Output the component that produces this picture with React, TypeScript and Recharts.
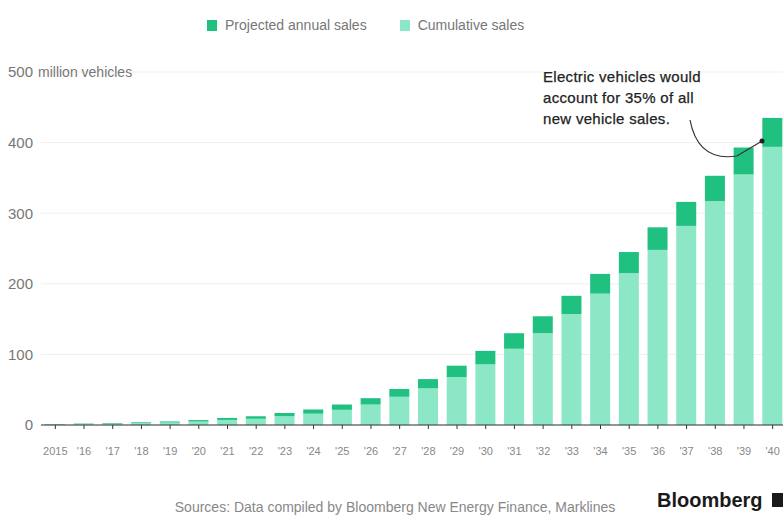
import { BarChart, Bar, XAxis, YAxis, CartesianGrid, Legend } from "recharts";

const YEARS = [
  "2015", "'16", "'17", "'18", "'19", "'20", "'21", "'22", "'23", "'24", "'25", "'26", "'27",
  "'28", "'29", "'30", "'31", "'32", "'33", "'34", "'35", "'36", "'37", "'38", "'39", "'40",
];

// cumulative EV fleet, million vehicles (top of each bar)
const CUMULATIVE = [
  1.2, 2, 2.8, 3.8, 5, 7, 10, 12.5, 17, 22, 29, 38, 51,
  65, 84, 105, 130, 154, 183, 214, 245, 280, 316, 353, 393, 435,
];

// projected annual sales, million vehicles (dark cap)
const ANNUAL = [
  0.5, 0.7, 0.9, 1.1, 1.5, 2, 2.8, 3.5, 4.5, 6, 7.5, 9, 11,
  13, 16, 19, 22, 24, 26, 28, 30, 32, 34, 36, 38, 41,
];

const Y_TICKS = [0, 100, 200, 300, 400, 500];
const LEGEND_ORDER = ["Projected annual sales", "Cumulative sales"];

const DARK = "#20c080";
const LIGHT = "#8ce7c6";
const FONT = "'Liberation Sans', Arial, sans-serif";

const data = YEARS.map((year, i) => ({
  year,
  prior: CUMULATIVE[i] - ANNUAL[i],
  annual: ANNUAL[i],
}));

function YTick(props: any) {
  const { x, y, payload } = props;
  if (payload.value === 500) {
    return (
      <g>
        <text x={x} y={y} dy="0.355em" textAnchor="end" fill="#777" fontSize={15}>
          500
        </text>
        <text x={x + 5} y={y} dy="0.355em" textAnchor="start" fill="#777" fontSize={14}>
          million vehicles
        </text>
      </g>
    );
  }
  return (
    <text x={x} y={y} dy="0.355em" textAnchor="end" fill="#777" fontSize={15}>
      {payload.value}
    </text>
  );
}

function LegendContent(props: any) {
  const items = [...(props.payload || [])].sort(
    (a: any, b: any) => LEGEND_ORDER.indexOf(a.value) - LEGEND_ORDER.indexOf(b.value)
  );
  return (
    <div style={{ display: "flex", paddingLeft: 207, fontSize: 14, color: "#777", lineHeight: "14px" }}>
      {items.map((it: any) => (
        <div key={it.value} style={{ display: "flex", alignItems: "center", marginRight: 33 }}>
          <span style={{ width: 10, height: 11, background: it.color, marginRight: 8, display: "inline-block" }} />
          <span>{it.value}</span>
        </div>
      ))}
    </div>
  );
}

export default function App() {
  return (
    <div style={{ position: "absolute", left: 0, top: 0, width: 783, height: 515, fontFamily: FONT, background: "#fff", overflow: "hidden" }}>
      <BarChart width={783} height={515} data={data} margin={{ top: 58, right: -4, bottom: 60, left: 0 }}>
        <CartesianGrid vertical={false} stroke="#efefef" />
        <XAxis
          dataKey="year"
          height={30}
          axisLine={{ stroke: "#333" }}
          tickLine={{ stroke: "#333" }}
          tickSize={4}
          tickMargin={18}
          interval={0}
          tick={{ fill: "#888", fontSize: 11 }}
        />
        <YAxis
          width={41}
          domain={[0, 500]}
          ticks={Y_TICKS}
          axisLine={false}
          tickLine={false}
          tickMargin={2}
          tick={<YTick />}
        />
        <Legend verticalAlign="top" align="left" content={<LegendContent />} wrapperStyle={{ top: 18, left: 0, width: 783 }} />
        <Bar dataKey="prior" name="Cumulative sales" stackId="s" fill={LIGHT} barSize={20} isAnimationActive={false} />
        <Bar dataKey="annual" name="Projected annual sales" stackId="s" fill={DARK} barSize={20} isAnimationActive={false} />
      </BarChart>
      <svg width={783} height={515} style={{ position: "absolute", left: 0, top: 0, pointerEvents: "none" }}>
        <text x={543} y={82} fontSize={15} fill="#222" stroke="#222" strokeWidth={0.25} letterSpacing={0.3}>
          <tspan x={543} dy={0}>Electric vehicles would</tspan>
          <tspan x={543} dy={21}>account for 35% of all</tspan>
          <tspan x={543} dy={21}>new vehicle sales.</tspan>
        </text>
        <path d="M 690 120 Q 698 162 737 156 L 762 141" fill="none" stroke="#333" strokeWidth={1.2} />
        <circle cx={762} cy={141} r={2.5} fill="#222" />
        <text x={395} y={512} textAnchor="middle" fontSize={14} fill="#888">
          Sources: Data compiled by Bloomberg New Energy Finance, Marklines
        </text>
        <text x={657} y={507} fontSize={20} fontWeight="bold" fill="#1a1a1a">
          Bloomberg
        </text>
        <rect x={772} y={493} width={11} height={14} fill="#1a1a1a" />
      </svg>
    </div>
  );
}
